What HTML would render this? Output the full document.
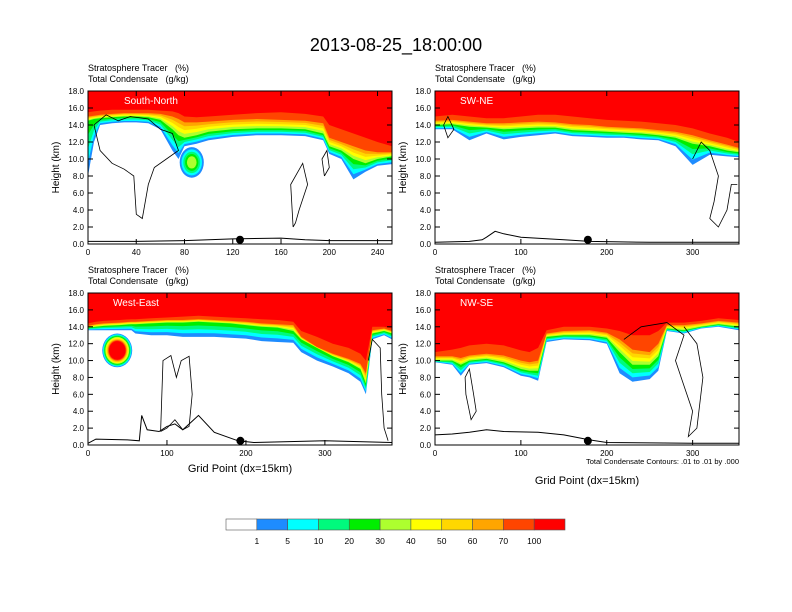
<!DOCTYPE html>
<html><head><meta charset="utf-8">
<style>
html,body{margin:0;padding:0;background:#fff;}
svg{display:block;font-family:"Liberation Sans",sans-serif;}
text{white-space:pre;}
</style></head>
<body>
<svg id="fig" width="792" height="612" viewBox="0 0 792 612" xmlns="http://www.w3.org/2000/svg">
<rect width="792" height="612" fill="#fff"/>
<text x="396" y="51" font-size="18" text-anchor="middle">2013-08-25_18:00:00</text>
<g id="panels"></g>
<g id="cbar"></g>
</svg>
<script>
const colors = ["#ffffff","#1e8cff","#00ffff","#00fa7d","#00ee00","#adff2f","#ffff00","#ffd700","#ffa500","#ff4500","#ff0000"];
const cbLabels = ["1","5","10","20","30","40","50","60","70","100"];

const p1x = [0,5,10,20,30,40,50,60,70,75,80,90,100,120,140,160,180,195,200,210,220,230,240,252];
const p1h1 = [8,12,14,14.2,14.3,14.3,14.2,13.5,11,10,11.5,11.8,12.2,12.6,12.8,12.8,12.7,12.2,10.6,10,7.6,8.5,9.2,9.4];
const p1h30 = [14.5,14.7,14.8,14.9,15,15,14.9,14.6,13.5,12.8,12.5,12.8,13.2,13.5,13.6,13.6,13.5,13,11.5,11,10,9.5,10,10.3];
const p1h70 = [15,15.1,15.2,15.3,15.4,15.4,15.4,15.3,15,14.7,14.3,14.3,14.4,14.6,14.7,14.6,14.5,14.2,12.5,12,11.5,11,10.8,10.8];
const p1h100 = [15.5,15.6,15.7,15.8,15.8,15.8,15.8,15.7,15.6,15.4,15,14.9,15,15.2,15.4,15.5,15.3,15,14,13.5,13,12.5,12,11.5];

const p2x = [0,20,40,60,80,100,120,140,160,180,200,220,240,260,280,300,320,340,354];
const p2h1 = [13.5,13.5,12.2,13,12.3,12.6,12.8,13,12.7,12.6,12.5,12.5,12.3,12.2,11.5,9.3,10.5,10.3,10.2];
const p2h30 = [14,14.1,13.8,13.7,13.5,13.6,13.7,13.7,13.4,13.3,13.2,13.1,13,12.8,12.5,11.8,11.5,11,10.8];
const p2h70 = [14.5,14.6,14.4,14.2,14.2,14.3,14.4,14.3,14.1,14,13.8,13.7,13.6,13.4,13.2,12.8,12.2,11.7,11.3];
const p2h100 = [15,15.2,15,14.8,14.8,15,15.2,15.2,15,14.8,14.6,14.5,14.4,14.2,14,13.6,13,12.5,12];

const p3x = [0,10,20,40,55,60,80,100,120,140,160,180,200,220,240,260,270,290,310,330,345,352,360,375,385];
const p3h1 = [13.6,13.6,13.6,13.6,13.6,13.2,13,13,12.8,12.8,12.8,12.7,12.6,12.3,12.2,12.1,11,10,9.3,8.5,7.5,6,12.5,13,12.5];
const p3h30 = [13.9,14,14.1,14.2,14.3,14.3,14.4,14.5,14.5,14.6,14.5,14.4,14.2,14,13.9,13.5,12.5,11.5,10.5,9.8,9,7.3,13.2,13.5,13.2];
const p3h70 = [14.1,14.3,14.4,14.5,14.6,14.6,14.7,14.8,14.8,14.9,14.8,14.7,14.6,14.4,14.3,14.2,12.8,11.6,10.8,10.2,9.6,8.5,13.6,13.8,13.5];
const p3h100 = [14.4,14.6,14.7,14.8,14.9,14.9,15,15.1,15.2,15.3,15.2,15.1,15,14.9,14.8,14.6,13.5,12.8,12,11.5,10.8,10,14,14,13.8];

const p4x = [0,20,30,40,60,80,100,110,120,130,150,180,200,215,230,250,260,270,290,310,330,354];
const p4h1 = [9.8,9.5,8.2,9.5,9.7,9.2,8.2,8,7.6,12.2,12.5,12.4,12,8.5,7.5,7.8,8.8,13.5,13.2,13.8,14,13.6];
const p4h30 = [10,10,9.5,10,10.2,9.8,9,8.8,8.8,12.8,13,13,12.7,11,9.5,9.5,10.5,13.8,13.6,14,14.3,14];
const p4h70 = [10.5,10.5,10.3,10.6,10.8,10.6,10,9.8,10,13.2,13.5,13.6,13.3,12.5,11.3,11,12,14.2,14.2,14.4,14.7,14.5];
const p4h100 = [11,11.3,11.5,11.8,12,11.8,11.2,11,11.5,13.6,14,14,13.8,13.5,13,13,13.5,14.5,14.5,14.7,15,14.8];

// blobs: [centerX, centerY(km), radiusX(grid), radiusY(km), topLevelIndex]
const p1blobs = [[86,9.6,10,1.8,5]];
const p3blobs = [[37,11.2,19,2.0,10]];
const p4blobs = [];

const p1terrain = [[0,0.3],[40,0.3],[60,0.35],[80,0.4],[120,0.6],[160,0.7],[180,0.5],[200,0.4],[252,0.4]];
const p2terrain = [[0,0.2],[40,0.3],[55,0.5],[60,0.8],[70,1.5],[80,1.2],[100,0.8],[150,0.5],[180,0.3],[250,0.2],[354,0.2]];
const p3terrain = [[0,0.2],[10,0.7],[50,0.6],[65,0.5],[68,3.5],[75,1.8],[90,1.6],[100,2.2],[110,2.5],[120,1.8],[140,3.5],[160,1.5],[190,0.5],[210,0.3],[300,0.5],[385,0.3]];
const p4terrain = [[0,1.2],[20,1.3],[40,1.5],[60,1.8],[80,1.6],[120,1.5],[150,1.2],[180,0.6],[200,0.3],[300,0.2],[354,0.2]];

const p1contours = [[[5,14],[15,15.2],[25,14.5],[35,15],[50,14.7],[60,13.5],[70,13],[75,11],[65,10],[55,9],[50,7],[45,3],[40,3.5],[38,8],[30,8.8],[20,9.5],[10,11],[5,14]],[[170,2],[168,7],[178,9.5],[182,7],[175,4],[172,2.5],[170,2]],[[196,8],[194,10],[198,11],[200,9],[196,8]]];
const p2contours = [[[10,14],[15,15],[22,13.5],[15,12.5],[10,14]],[[300,10],[310,12],[320,11],[330,8],[325,5],[320,3],[330,2],[340,4],[345,7],[352,7]]];
const p3contours = [[[92,1.6],[95,10],[105,10.6],[112,8],[118,10],[128,10.5],[132,6],[128,2.2],[120,1.8],[110,3],[100,2],[92,1.6]],[[355,10],[360,12.5],[370,11.5],[372,6],[375,2],[380,0.5]]];
const p4contours = [[[35,8],[40,9],[45,6],[48,4],[42,3],[36,6],[35,8]],[[220,12.5],[240,14],[270,14.5],[290,13],[280,10],[290,7],[300,4],[295,1],[305,2],[312,8],[305,12],[290,14]]];

const p1ticks = [0,40,80,120,160,200,240];
const p2ticks = [0,100,200,300];
const yticks = [0,2,4,6,8,10,12,14,16,18];

const NS = "http://www.w3.org/2000/svg";
function mk(tag, attrs, parent){const e=document.createElementNS(NS,tag);for(const k in attrs)e.setAttribute(k,attrs[k]);parent.appendChild(e);return e;}

const panels = [
 {name:"south-north",label:"South-North",L:88,T:91,W:304,H:153,xmax:252,x:p1x,h1:p1h1,h30:p1h30,h70:p1h70,h100:p1h100,blobs:p1blobs,terrain:p1terrain,cont:p1contours,ticks:p1ticks,dot:126,xlab:false},
 {name:"sw-ne",label:"SW-NE",L:435,T:91,W:304,H:153,xmax:354,x:p2x,h1:p2h1,h30:p2h30,h70:p2h70,h100:p2h100,blobs:[],terrain:p2terrain,cont:p2contours,ticks:p2ticks,dot:178,xlab:false},
 {name:"west-east",label:"West-East",L:88,T:293,W:304,H:152,xmax:385,x:p3x,h1:p3h1,h30:p3h30,h70:p3h70,h100:p3h100,blobs:p3blobs,terrain:p3terrain,cont:p3contours,ticks:p2ticks,dot:193,xlab:true,xlabY:472},
 {name:"nw-se",label:"NW-SE",L:435,T:293,W:304,H:152,xmax:354,x:p4x,h1:p4h1,h30:p4h30,h70:p4h70,h100:p4h100,blobs:p4blobs,terrain:p4terrain,cont:p4contours,ticks:p2ticks,dot:178,xlab:true,xlabY:484,note:true}
];

const root = document.getElementById("panels");
panels.forEach((p,pi)=>{
  const g = mk("g",{},root);
  
  
  const sx = v=>p.L+v/p.xmax*p.W;
  const sy = v=>p.T+p.H-v/18*p.H;
  const cid = "clip"+pi;
  const cp = mk("clipPath",{id:cid},g); mk("rect",{x:p.L,y:p.T,width:p.W,height:p.H},cp);
  const pg = mk("g",{"clip-path":"url(#"+cid+")"},g);
  function bottom(k){
    return p.x.map((_,i)=>{
      if(k<=4) return p.h1[i]+(p.h30[i]-p.h1[i])*(k-1)/4;
      if(k<=8) return p.h30[i]+(p.h70[i]-p.h30[i])*(k-5)/4;
      if(k==9) return p.h70[i];
      return p.h100[i];
    });
  }
  for(let k=1;k<=10;k++){
    const b = bottom(k);
    let d = "M"+sx(p.x[0])+","+sy(18.5);
    p.x.forEach((xv,i)=>{d+=" L"+sx(xv).toFixed(1)+","+sy(b[i]).toFixed(1);});
    d += " L"+sx(p.x[p.x.length-1])+","+sy(18.5)+" Z";
    const path = mk("path",{d:d,fill:colors[k]},pg);
    
    
  }
  p.blobs.forEach(bl=>{
    const step = bl[4]>6 ? 0.05 : 0.15;
    for(let k=1;k<=bl[4];k++){
      const f = 1-(k-1)*step;
      const e = mk("ellipse",{cx:sx(bl[0]),cy:sy(bl[1]),rx:bl[2]/p.xmax*p.W*f,ry:bl[3]/18*p.H*f,fill:colors[k]},pg);
      
      
    }
  });
  p.cont.forEach(c=>{
    const l = mk("polyline",{points:c.map(q=>sx(q[0]).toFixed(1)+","+sy(q[1]).toFixed(1)).join(" "),fill:"none",stroke:"#000","stroke-width":0.8},pg);
    
    
  });
  const t = mk("polyline",{points:p.terrain.map(q=>sx(q[0]).toFixed(1)+","+sy(q[1]).toFixed(1)).join(" "),fill:"none",stroke:"#000","stroke-width":1},pg);
  
  
  const dot = mk("circle",{cx:sx(p.dot),cy:sy(0.5),r:4,fill:"#000"},g);
  
  
  mk("rect",{x:p.L,y:p.T,width:p.W,height:p.H,fill:"none",stroke:"#000","stroke-width":1},g);
  yticks.forEach(v=>{
    const y=sy(v);
    mk("line",{x1:p.L,x2:p.L+5,y1:y,y2:y,stroke:"#000"},g);
    mk("line",{x1:p.L+p.W,x2:p.L+p.W-5,y1:y,y2:y,stroke:"#000"},g);
    const tx = mk("text",{x:p.L-4,y:y+3,"font-size":8,"text-anchor":"end"},g);
    tx.textContent = v.toFixed(1);
    
    
  });
  p.ticks.forEach(v=>{
    const x=sx(v);
    mk("line",{x1:x,x2:x,y1:p.T+p.H,y2:p.T+p.H-5,stroke:"#000"},g);
    mk("line",{x1:x,x2:x,y1:p.T,y2:p.T+5,stroke:"#000"},g);
    const tx = mk("text",{x:x,y:p.T+p.H+11,"font-size":8,"text-anchor":"middle"},g);
    tx.textContent = String(v);
    
    
  });
  const s1 = mk("text",{x:p.L,y:p.T-20,"font-size":9},g); s1.textContent="Stratosphere Tracer   (%)";
  
  
  const s2 = mk("text",{x:p.L,y:p.T-9,"font-size":9},g); s2.textContent="Total Condensate   (g/kg)";
  
  
  const pl = mk("text",{x:p.L+(pi==0?36:25),y:p.T+13,"font-size":10,fill:"#fff"},g); pl.textContent=p.label;
  
  
  const yl = mk("text",{x:0,y:0,"font-size":10,"text-anchor":"middle",transform:"translate("+(p.L-29)+","+(p.T+p.H/2)+") rotate(-90)"},g);
  yl.textContent="Height (km)";
  
  
  if(p.xlab){
    const xl = mk("text",{x:p.L+p.W/2,y:p.xlabY,"font-size":11,"text-anchor":"middle"},g);
    xl.textContent="Grid Point (dx=15km)";
    
    
  }
  if(p.note){
    const nt = mk("text",{x:p.L+p.W,y:p.T+p.H+19,"font-size":7.5,"text-anchor":"end"},g);
    nt.textContent="Total Condensate Contours: .01 to .01 by .000";
    
    
  }
});

const cb = document.getElementById("cbar");
const cbL=226, cbT=519, cbW=339, cbH=11, n=colors.length, bw=cbW/n;
colors.forEach((c,i)=>{
  const r = mk("rect",{x:cbL+i*bw,y:cbT,width:bw,height:cbH,fill:c,stroke:"#555","stroke-width":0.6},cb);
  
  
});
cbLabels.forEach((s,i)=>{
  const t = mk("text",{x:cbL+(i+1)*bw,y:544,"font-size":8.5,"text-anchor":"middle"},cb);
  t.textContent=s;
  
  
});
</script>
</body></html>
